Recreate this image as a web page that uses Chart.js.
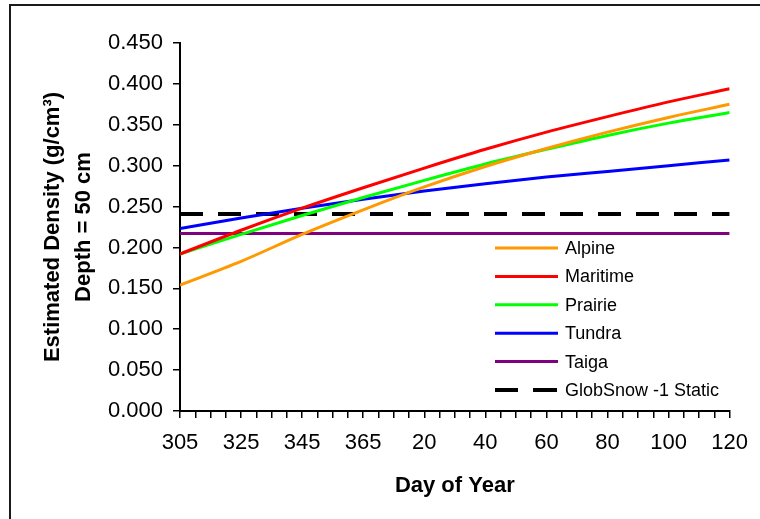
<!DOCTYPE html>
<html>
<head>
<meta charset="utf-8">
<script src="https://cdn.jsdelivr.net/npm/chart.js@4"></script>
<style>
  html, body { margin: 0; padding: 0; background: #fff; overflow: hidden; }
  #frame { position: absolute; left: 9px; top: 4px; width: 900px; height: 700px; border: 2.5px solid #1a1a1a; }
  #chart { position: absolute; left: 0; top: 0; }
</style>
</head>
<body>
<div id="frame"></div>
<canvas id="chart" width="760" height="519"></canvas>
<script>
// day of year, continuous through new year (385 = day 20)
const days = [305, 325, 345, 365, 385, 405, 425, 445, 465, 485];

const alpine   = [0.154, 0.183, 0.216, 0.246, 0.274, 0.299, 0.321, 0.341, 0.359, 0.375];
const maritime = [0.192, 0.221, 0.248, 0.273, 0.297, 0.320, 0.341, 0.360, 0.378, 0.394];
const prairie  = [0.192, 0.216, 0.239, 0.261, 0.282, 0.302, 0.320, 0.337, 0.352, 0.365];
const tundra   = [0.223, 0.236, 0.248, 0.259, 0.269, 0.278, 0.286, 0.293, 0.300, 0.307];
const taiga    = [0.217, 0.217, 0.217, 0.217, 0.217, 0.217, 0.217, 0.217, 0.217, 0.217];
const globSnow = [0.241, 0.241, 0.241, 0.241, 0.241, 0.241, 0.241, 0.241, 0.241, 0.241];

function pts(arr) {
    return days.map((d, i) => ({ x: d, y: arr[i] }));
}

function line(label, arr, color, dash) {
    return {
        label: label,
        data: pts(arr),
        borderColor: color,
        backgroundColor: color,
        borderWidth: dash ? 4 : 3,
        borderDash: dash || [],
        pointRadius: 0,
        cubicInterpolationMode: "monotone",
        fill: false,
    };
}

// legend drawn inside the plot, lower right
const boxLegend = {
    id: "boxLegend",
    afterDraw(chart) {
        const ctx = chart.ctx;
        const x0 = 495, y0 = 248, rowH = 28.4;
        ctx.save();
        ctx.font = "18px 'Liberation Sans', Arial, sans-serif";
        ctx.textBaseline = "middle";
        chart.data.datasets.forEach((ds, i) => {
            const y = y0 + i * rowH;
            ctx.strokeStyle = ds.borderColor;
            ctx.lineWidth = ds.borderWidth;
            if (ds.borderDash.length) {
                ctx.beginPath();
                ctx.moveTo(x0, y); ctx.lineTo(x0 + 23, y);
                ctx.moveTo(x0 + 38, y); ctx.lineTo(x0 + 62, y);
                ctx.stroke();
            } else {
                ctx.beginPath();
                ctx.moveTo(x0, y); ctx.lineTo(x0 + 63, y);
                ctx.stroke();
            }
            ctx.fillStyle = "#000";
            ctx.fillText(ds.label, x0 + 70, y + 1);
        });
        ctx.restore();
    },
};

Chart.defaults.color = "#000";
Chart.defaults.font.family = "'Liberation Sans', Arial, sans-serif";

new Chart(document.getElementById("chart"), {
    type: "line",
    data: {
        datasets: [
            line("Alpine", alpine, "#FF9900"),
            line("Maritime", maritime, "#FF0000"),
            line("Prairie", prairie, "#00FF00"),
            line("Tundra", tundra, "#0000FF"),
            line("Taiga", taiga, "#800080"),
            line("GlobSnow -1 Static", globSnow, "#000000", [23, 15]),
        ],
    },
    options: {
        responsive: false,
        animation: false,
        devicePixelRatio: 1,
        layout: { padding: { top: 43, right: 28, left: 0, bottom: 0 } },
        plugins: {
            legend: { display: false },
            tooltip: { enabled: false },
        },
        scales: {
            x: {
                type: "linear",
                min: 305,
                max: 485,
                afterFit: (scale) => { scale.height = 108; },
                ticks: {
                    stepSize: 5,
                    autoSkip: false,
                    maxRotation: 0,
                    padding: 12,
                    font: { size: 22 },
                    callback: (v) => {
                        if ((v - 305) % 20 !== 0) return "";
                        return v > 365 ? v - 365 : v;
                    },
                },
                grid: { drawOnChartArea: false, tickLength: 7, color: "#000", lineWidth: 1.5 },
                border: { color: "#000", width: 2 },
                title: {
                    display: true,
                    text: "Day of Year",
                    font: { size: 22, weight: "bold" },
                    padding: { top: 4, bottom: 20 },
                },
            },
            y: {
                min: 0,
                max: 0.45,
                afterFit: (scale) => { scale.width = 180; },
                ticks: {
                    stepSize: 0.05,
                    padding: 10,
                    font: { size: 22 },
                    callback: (v) => v.toFixed(3),
                },
                grid: { drawOnChartArea: false, tickLength: 7, color: "#000", lineWidth: 1.5 },
                border: { color: "#000", width: 2 },
                title: {
                    display: true,
                    text: ["Estimated Density (g/cm\u00B3)", "Depth = 50 cm"],
                    font: { size: 22, weight: "bold", lineHeight: 1.38 },
                    padding: { top: 38, bottom: 0 },
                },
            },
        },
    },
    plugins: [boxLegend],
});
</script>
</body>
</html>
